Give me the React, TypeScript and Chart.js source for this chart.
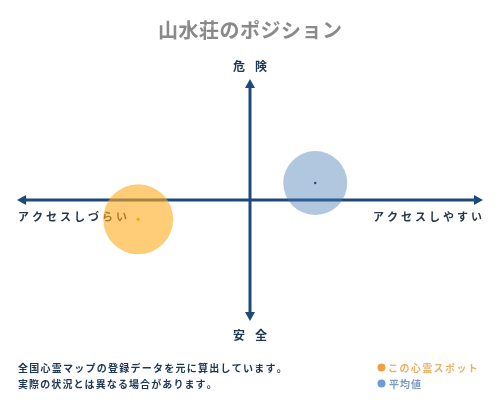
import React, { useEffect, useRef } from "react";
import { Chart, registerables } from "chart.js";

Chart.register(...registerables);

const titleText = "山水荘のポジション";
const seriesNames = ["この心霊スポット", "平均値"];
const accessValues = [-4.8, 2.8]; // x: アクセスしづらい(-) ⇔ アクセスしやすい(+)
const dangerValues = [-1.6, 1.4]; // y: 安全(-) ⇔ 危険(+)
const bubbleRadii = [35, 32];
const axisTop = "危険";
const axisBottom = "安全";
const axisLeft = "アクセスしづらい";
const axisRight = "アクセスしやすい";
const footerLines = [
  "全国心霊マップの登録データを元に算出しています。",
  "実際の状況とは異なる場合があります。",
];

const FONT = '"Noto Sans CJK JP", "Noto Sans", sans-serif';
const NAVY = "#1d4a7a";
const TEXT_NAVY = "#1c3656";

function spacedText(
  ctx: CanvasRenderingContext2D,
  text: string,
  x: number,
  y: number,
  spacing: number,
  align: "left" | "center" | "right"
) {
  const chars = Array.from(text);
  const widths = chars.map((c) => ctx.measureText(c).width);
  const total = widths.reduce((a, b) => a + b, 0) + spacing * (chars.length - 1);
  let cx = align === "left" ? x : align === "center" ? x - total / 2 : x - total;
  ctx.textAlign = "left";
  chars.forEach((c, i) => {
    ctx.fillText(c, cx, y);
    cx += widths[i] + spacing;
  });
}

const decorPlugin = {
  id: "decor",
  beforeDatasetsDraw(chart: any) {
    const ctx: CanvasRenderingContext2D = chart.ctx;
    const xs = chart.scales.x;
    const ys = chart.scales.y;
    const x0 = xs.getPixelForValue(0);
    const y0 = ys.getPixelForValue(0);
    const left = xs.getPixelForValue(xs.min);
    const right = xs.getPixelForValue(xs.max);
    const top = ys.getPixelForValue(ys.max);
    const bottom = ys.getPixelForValue(ys.min);
    ctx.save();
    ctx.strokeStyle = NAVY;
    ctx.fillStyle = NAVY;
    ctx.lineWidth = 3;
    ctx.beginPath();
    ctx.moveTo(left + 6, y0);
    ctx.lineTo(right - 6, y0);
    ctx.stroke();
    ctx.beginPath();
    ctx.moveTo(x0, top + 6);
    ctx.lineTo(x0, bottom - 6);
    ctx.stroke();
    const head = (pts: number[][]) => {
      ctx.beginPath();
      ctx.moveTo(pts[0][0], pts[0][1]);
      ctx.lineTo(pts[1][0], pts[1][1]);
      ctx.lineTo(pts[2][0], pts[2][1]);
      ctx.closePath();
      ctx.fill();
    };
    head([[left, y0], [left + 9, y0 - 5], [left + 9, y0 + 5]]);
    head([[right, y0], [right - 9, y0 - 5], [right - 9, y0 + 5]]);
    head([[x0, top], [x0 - 5, top + 9], [x0 + 5, top + 9]]);
    head([[x0, bottom], [x0 - 5, bottom - 9], [x0 + 5, bottom - 9]]);

    ctx.textBaseline = "middle";
    ctx.fillStyle = TEXT_NAVY;
    ctx.font = `bold 12px ${FONT}`;
    spacedText(ctx, axisTop, x0, top - 13, 10, "center");
    spacedText(ctx, axisBottom, x0, bottom + 14, 10, "center");
    ctx.fillStyle = "#2a3648";
    ctx.font = `bold 11px ${FONT}`;
    spacedText(ctx, axisLeft, left + 1, y0 + 17, 3, "left");
    spacedText(ctx, axisRight, right - 1, y0 + 17, 3, "right");
    ctx.restore();
  },
  afterDraw(chart: any) {
    const ctx: CanvasRenderingContext2D = chart.ctx;
    ctx.save();
    ctx.textBaseline = "middle";
    ctx.fillStyle = "#8a8a8a";
    ctx.font = `bold 20px ${FONT}`;
    spacedText(ctx, titleText, 250, 30, 0.5, "center");

    ctx.fillStyle = TEXT_NAVY;
    ctx.font = `bold 10px ${FONT}`;
    spacedText(ctx, footerLines[0], 18, 368, 1.25, "left");
    spacedText(ctx, footerLines[1], 18, 384, 1.1, "left");

    ctx.fillStyle = "#f0a040";
    ctx.beginPath();
    ctx.arc(381.5, 367.5, 4, 0, Math.PI * 2);
    ctx.fill();
    ctx.fillStyle = "#6f9ccc";
    ctx.beginPath();
    ctx.arc(381.5, 383.5, 4, 0, Math.PI * 2);
    ctx.fill();
    ctx.font = `bold 10px ${FONT}`;
    ctx.fillStyle = "#eeb066";
    spacedText(ctx, seriesNames[0], 388, 368, 1.4, "left");
    ctx.fillStyle = "#7d9cc0";
    spacedText(ctx, seriesNames[1], 389, 384, 1.0, "left");
    ctx.restore();
  },
};

export default function App() {
  const ref = useRef<HTMLCanvasElement | null>(null);
  useEffect(() => {
    if (!ref.current) return;
    const chart = new Chart(ref.current, {
      type: "bubble",
      data: {
        datasets: [
          {
            label: seriesNames[0],
            data: [{ x: accessValues[0], y: dangerValues[0], r: bubbleRadii[0] }],
            backgroundColor: "rgba(255,172,30,0.6)",
            borderWidth: 0,
            clip: false,
          } as any,
          {
            label: seriesNames[1],
            data: [{ x: accessValues[1], y: dangerValues[1], r: bubbleRadii[1] }],
            backgroundColor: "rgba(70,118,178,0.42)",
            borderWidth: 0,
            clip: false,
          } as any,
          {
            type: "scatter",
            label: "center1",
            data: [{ x: accessValues[0], y: dangerValues[0] }],
            pointRadius: 2.2,
            pointStyle: "rectRot",
            backgroundColor: "#f0a020",
            borderWidth: 0,
          } as any,
          {
            type: "scatter",
            label: "center2",
            data: [{ x: accessValues[1], y: dangerValues[1] }],
            pointRadius: 1.2,
            backgroundColor: "#1a2a40",
            borderWidth: 0,
          } as any,
        ],
      },
      options: {
        responsive: false,
        animation: false,
        events: [],
        layout: { autoPadding: false, padding: { left: 17, right: 17, top: 79, bottom: 79 } },
        scales: {
          x: { type: "linear", min: -10, max: 10, display: false, offset: false },
          y: { type: "linear", min: -10, max: 10, display: false, offset: false },
        },
        plugins: {
          legend: { display: false },
          tooltip: { enabled: false },
          title: { display: false },
        },
      },
      plugins: [decorPlugin],
    });
    return () => chart.destroy();
  }, []);
  return (
    <div style={{ position: "fixed", left: 0, top: 0, width: 500, height: 400, background: "#fff" }}>
      <canvas ref={ref} width={500} height={400} style={{ width: 500, height: 400 }} />
    </div>
  );
}
